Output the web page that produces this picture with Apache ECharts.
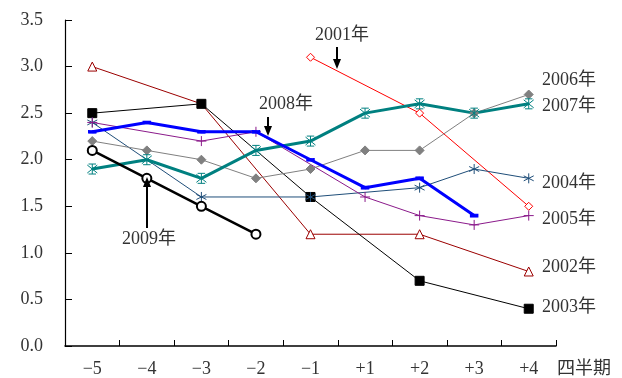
<!DOCTYPE html>
<html>
<head>
<meta charset="utf-8">
<script src="https://cdn.jsdelivr.net/npm/echarts@6/dist/echarts.min.js"></script>
<style>
  html, body { margin: 0; padding: 0; background: #fff; }
  #chart { width: 622px; height: 378px; }
</style>
</head>
<body>
<div id="chart"></div>
<script>
// Quarter offsets around the reference point
const quarters = ['\u22125', '\u22124', '\u22123', '\u22122', '\u22121', '+1', '+2', '+3', '+4'];

// Values per year (null = no observation at that quarter)
const y2001 = [null, null, null, null, 3.1, null, 2.5, null, 1.5];
const y2002 = [3.0, null, 2.6, null, 1.2, null, 1.2, null, 0.8];
const y2003 = [2.5, null, 2.6, null, 1.6, null, 0.7, null, 0.4];
const y2004 = [2.4, null, 1.6, null, 1.6, null, 1.7, 1.9, 1.8];
const y2005 = [2.4, null, 2.2, 2.3, null, 1.6, 1.4, 1.3, 1.4];
const y2006 = [2.2, 2.1, 2.0, 1.8, 1.9, 2.1, 2.1, 2.5, 2.7];
const y2007 = [1.9, 2.0, 1.8, 2.1, 2.2, 2.5, 2.6, 2.5, 2.6];
const y2008 = [2.3, 2.4, 2.3, 2.3, 2.0, 1.7, 1.8, 1.4, null];
const y2009 = [2.1, 1.8, 1.5, 1.2, null, null, null, null, null];

const yTicks = [0, 0.5, 1.0, 1.5, 2.0, 2.5, 3.0, 3.5];

const FONT = '"Liberation Serif", "DejaVu Serif", "Noto Sans CJK JP", serif';
const TXT = '#333';

const STAR6 = 'path://M5,0L5,10M0.7,2.5L9.3,7.5M0.7,7.5L9.3,2.5';
const STARX = 'path://M1,1L9,9M1,9L9,1M5,0L5,10M2,0L8,0M2,10L8,10';
const PLUS = 'path://M5,0L5,10M0,5L10,5';

function mk(name, data, color, width, symbol, size, fill, extra) {
  return Object.assign({
    name: name,
    type: 'line',
    data: data,
    connectNulls: true,
    symbol: symbol,
    symbolSize: size,
    showAllSymbol: true,
    lineStyle: { color: color, width: width },
    itemStyle: { color: fill, borderColor: color, borderWidth: 1 },
    emphasis: { disabled: true },
    animation: false
  }, extra || {});
}

// 2002's point at −3 sits under 2003's square; draw it without a marker
const d2002 = y2002.map((v, i) => (i === 2 ? { value: v, symbol: 'none' } : v));

const series = [
  mk('2001年', y2001, '#ff0000', 1, 'diamond', 8, '#fff'),
  mk('2002年', d2002, '#9b0000', 1, 'triangle', 9, '#fff'),
  mk('2003年', y2003, '#000000', 1, 'rect', 9, '#000'),
  mk('2004年', y2004, '#1f4e79', 1, STAR6, 10, 'none'),
  mk('2005年', y2005, '#8b1a8b', 1, PLUS, 10, 'none'),
  mk('2006年', y2006, '#808080', 1, 'diamond', 9, '#808080'),
  mk('2007年', y2007, '#008080', 3, STARX, 10, 'none'),
  mk('2008年', y2008, '#0000ff', 3, 'rect', [7, 3], '#0000ff'),
  mk('2009年', y2009, '#000000', 2.5, 'emptyCircle', 9, '#000', {
    itemStyle: { color: '#000', borderWidth: 1.2 }
  })
];

function label(text, x, y) {
  return {
    type: 'text', x: x, y: y, z: 10,
    style: { text: text, font: '18px ' + FONT, fill: TXT, align: 'left', verticalAlign: 'middle' }
  };
}
function arrow(x, y0, y1) {
  // shaft from y0 to the tip at y1, with a filled head
  const dir = y1 > y0 ? 1 : -1;
  const base = y1 - dir * 10;
  return [
    { type: 'line', z: 10, shape: { x1: x, y1: y0, x2: x, y2: base + dir * 2 }, style: { stroke: '#000', lineWidth: 2 } },
    { type: 'polygon', z: 10, shape: { points: [[x - 4, base], [x + 4, base], [x, y1]] }, style: { fill: '#000' } }
  ];
}

const chart = echarts.init(document.getElementById('chart'), null, { renderer: 'canvas' });
chart.setOption({
  backgroundColor: '#fff',
  animation: false,
  grid: { left: 65, right: 66, top: 20, bottom: 32 },
  xAxis: {
    type: 'category',
    data: quarters,
    boundaryGap: true,
    axisLine: { lineStyle: { color: '#000', width: 1.5 } },
    axisTick: { show: true, inside: true, length: 6, lineStyle: { color: '#000' } },
    axisLabel: { color: TXT, fontFamily: FONT, fontSize: 18, margin: 14 },
    splitLine: { show: false }
  },
  yAxis: {
    type: 'value',
    min: yTicks[0],
    max: yTicks[yTicks.length - 1],
    interval: 0.5,
    axisLine: { show: true, lineStyle: { color: '#000', width: 1.2 } },
    axisTick: { show: true, inside: true, length: 7, lineStyle: { color: '#000' } },
    axisLabel: { color: TXT, fontFamily: FONT, fontSize: 18, margin: 22, formatter: v => v.toFixed(1) },
    splitLine: { show: false }
  },
  series: series,
  graphic: [
    label('2001年', 315, 35),
    label('2008年', 259, 104),
    label('2009年', 122, 239),
    label('2006年', 542, 80),
    label('2007年', 542, 106),
    label('2004年', 542, 183),
    label('2005年', 542, 219),
    label('2002年', 542, 267),
    label('2003年', 542, 307),
    label('四半期', 557, 369),
    ...arrow(337, 47, 69),
    ...arrow(268, 117, 136),
    ...arrow(147, 228, 177)
  ]
});
</script>
</body>
</html>
